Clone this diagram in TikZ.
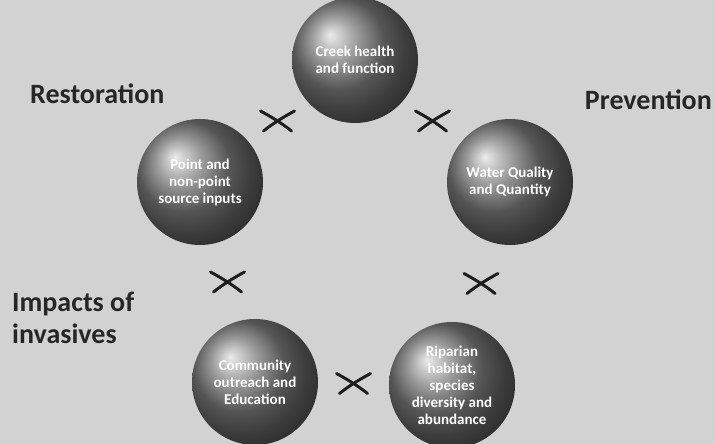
\documentclass[tikz,border=0pt]{standalone}
\usepackage{fontspec}
\setmainfont{Carlito}
\usetikzlibrary{calc}
\definecolor{scanbg}{HTML}{D2D2D2}
\definecolor{ballgray}{HTML}{7A7A7A}
\definecolor{marklin}{HTML}{1E1E1E}
\tikzset{
  ballnode/.style = {circle, minimum size=126pt, inner sep=0pt, align=center,
                     shading=ball, ball color=ballgray, text=white,
                     font=\bfseries\fontsize{15}{17}\selectfont},
  sidelbl/.style  = {font=\bfseries\fontsize{28}{32}\selectfont, text=black!85,
                     inner sep=0pt, align=left},
  xstroke/.style  = {draw=marklin, line width=3pt, line cap=round},
  xmark/.pic      = {
    \draw[xstroke] (-17,-10) .. controls (-6,-4) and (4,2) .. (14,10);
    \draw[xstroke] (17,-10) .. controls (6,-4) and (-4,2) .. (-14,10);
  },
}
\begin{document}
\begin{tikzpicture}[x=1pt,y=-1pt]
  \useasboundingbox[fill=scanbg] (0,0) rectangle (715,444);
  % the five steps of the cycle
  \node[ballnode] (crk) at (355,60)  {Creek health\\and function};
  \node[ballnode] (pts) at (200,182) {Point and\\non-point\\source inputs};
  \node[ballnode] (wqq) at (510,182) {Water Quality\\and Quantity};
  \node[ballnode] (com) at (255,382) {Community\\outreach and\\Education};
  \node[ballnode] (rip) at (452,385) {Riparian\\habitat,\\species\\diversity and\\abundance};
  % marks between the steps
  \pic at ($(crk)!0.5!(pts)$) {xmark};
  \pic at ($(crk)!0.5!(wqq)$) {xmark};
  \pic at ($(pts)!0.5!(com)$) {xmark};
  \pic at ($(wqq)!0.5!(rip)$) {xmark};
  \pic at ($(com)!0.5!(rip)$) {xmark};
  % side labels
  \node[sidelbl, anchor=west] (rst) at (30,94)  {Restoration};
  \node[sidelbl, anchor=east] (prv) at (712,100) {Prevention};
  \node[sidelbl, anchor=west] (inv) at (12,318) {Impacts of\\invasives};
\end{tikzpicture}
\end{document}
